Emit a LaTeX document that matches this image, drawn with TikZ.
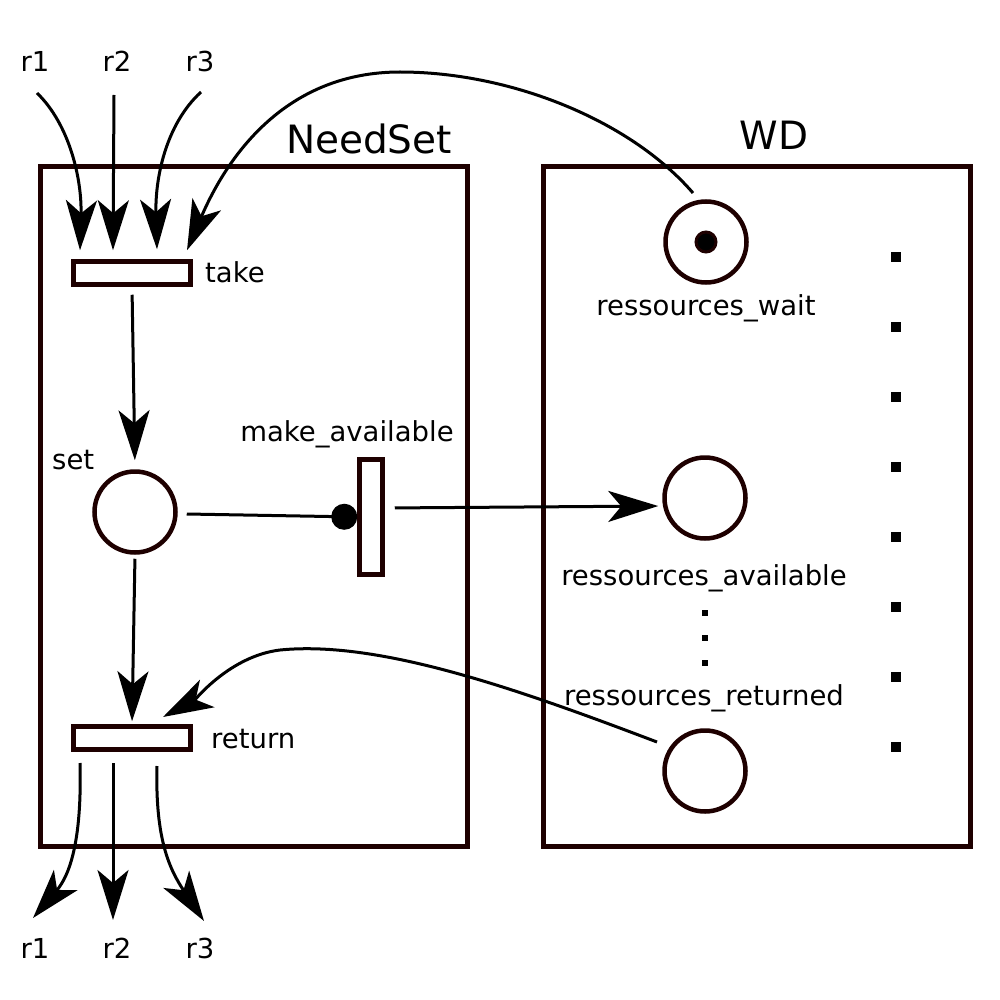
\documentclass[tikz,border=0pt]{standalone}
\usepackage{fontspec}
\setmainfont{DejaVu Sans}
\usetikzlibrary{arrows.meta,calc}
\definecolor{edge}{HTML}{1E0000}
\begin{document}
\begin{tikzpicture}[x=1pt,y=-1pt,
 place/.style={circle,draw=edge,line width=4.5pt,minimum size=81pt,inner sep=0pt},
 trans/.style={rectangle,draw=edge,line width=4.5pt,inner sep=0pt},
 htrans/.style={trans,minimum width=117pt,minimum height=23pt},
 vtrans/.style={trans,minimum width=23pt,minimum height=115pt},
 container/.style={rectangle,draw=edge,line width=5pt,inner sep=0pt,minimum width=427pt,minimum height=680pt},
 lab/.style={inner sep=0pt,anchor=base,font=\fontsize{27.5}{33}\selectfont},
 biglab/.style={inner sep=0pt,anchor=base,font=\fontsize{39}{47}\selectfont},
 flow/.style={line width=3pt,-{Stealth[length=50pt,width=31pt,inset=13pt]}},
 wire/.style={line width=3pt},
 sq/.style={rectangle,fill=black,inner sep=0pt,minimum size=10pt},
 smsq/.style={rectangle,fill=black,inner sep=0pt,minimum size=6pt},
 tok/.style={circle,fill=black,draw=edge,line width=3pt,minimum size=20pt,inner sep=0pt}
]
\useasboundingbox (0,0) rectangle (1000,1000);
% containers
\node[container] (needset) at (254,506.5) {};
\node[container] (wd) at (757,506.5) {};
\node[biglab] (needsetlab) at (369,154) {NeedSet};
\node[biglab] (wdlab) at (774,150) {WD};
% transitions
\node[htrans] (take) at (132,273) {};
\node[htrans] (ret) at (132,738) {};
\node[vtrans] (ma) at (371,517) {};
\node[lab,anchor=base west] (takelab) at (205,282) {take};
\node[lab,anchor=base west] (retlab) at (211,748) {return};
\node[lab] (malab) at (347,441) {make\_available};
% places
\node[place] (set) at (135,512) {};
\node[lab,anchor=base west] (setlab) at (52,469) {set};
\node[place] (wait) at (706,242) {};
\node[tok] (token) at (706,242) {};
\node[place] (avail) at (705,498) {};
\node[place] (rplace) at (705,771) {};
\node[lab] (waitlab) at (706,315) {ressources\_wait};
\node[lab] (availlab) at (704,585) {ressources\_available};
\node[lab] (retdlab) at (704,705) {ressources\_returned};
% dots
\foreach \y [count=\i] in {613,638,663} \node[smsq] (md\i) at (705,\y) {};
\foreach \y [count=\i] in {257,327,397,467,537,607,677,747} \node[sq] (rd\i) at (896,\y) {};
% r labels
\node[lab] (r1t) at (35,72) {r1};
\node[lab] (r2t) at (117,72) {r2};
\node[lab] (r3t) at (200,72) {r3};
\node[lab] (r1b) at (35,958) {r1};
\node[lab] (r2b) at (117,958) {r2};
\node[lab] (r3b) at (200,958) {r3};
% free ends
\coordinate (r1s) at (37,93);
\coordinate (r2s) at (114,95);
\coordinate (r3s) at (201,92);
\coordinate (t1) at ($(take.north)+(-52,-9)$);
\coordinate (t2) at ($(take.north)+(-19,-9)$);
\coordinate (t3) at ($(take.north)+(25,-10)$);
\coordinate (t4) at ($(take.north)+(55,-9)$);
\coordinate (ws) at (693,193);
\coordinate (rs) at (657,742);
\coordinate (rt) at (163,717);
\coordinate (b1s) at (80,763);
\coordinate (b2s) at (113,763);
\coordinate (b3s) at (157,766);
\coordinate (b1e) at (33,918);
\coordinate (b2e) at (113,920);
\coordinate (b3e) at (204,921);
% arcs into take
\draw[flow] (r1s) .. controls (70,125) and (82,180) .. (t1);
\draw[flow] (r2s) -- (t2);
\draw[flow] (r3s) .. controls (165,125) and (155,180) .. (t3);
\draw[flow] (ws) .. controls (630,120) and (510,72) .. (400,72) .. controls (290,72) and (230,150) .. (t4);
% internal arcs
\draw[flow,shorten <=8pt,shorten >=9pt] (take.south) -- (set.north);
\draw[wire,-{Circle[length=26pt]}] ([xshift=9pt,yshift=-2pt]set.east) -- (ma.west);
\draw[flow,shorten <=10pt,shorten >=4pt] ([yshift=9pt]ma.east) -- ([yshift=-8pt]avail.west);
\draw[flow,shorten <=4pt,shorten >=3pt] (set.south) -- (ret.north);
\draw[flow] (rs) .. controls (520,690) and (380,640) .. (280,650) .. controls (230,656) and (195,700) .. (rt);
% arcs out of return
\draw[flow] (b1s) .. controls (82,840) and (70,875) .. (b1e);
\draw[flow] (b2s) -- (b2e);
\draw[flow] (b3s) .. controls (155,840) and (170,870) .. (b3e);
\end{tikzpicture}
\end{document}
